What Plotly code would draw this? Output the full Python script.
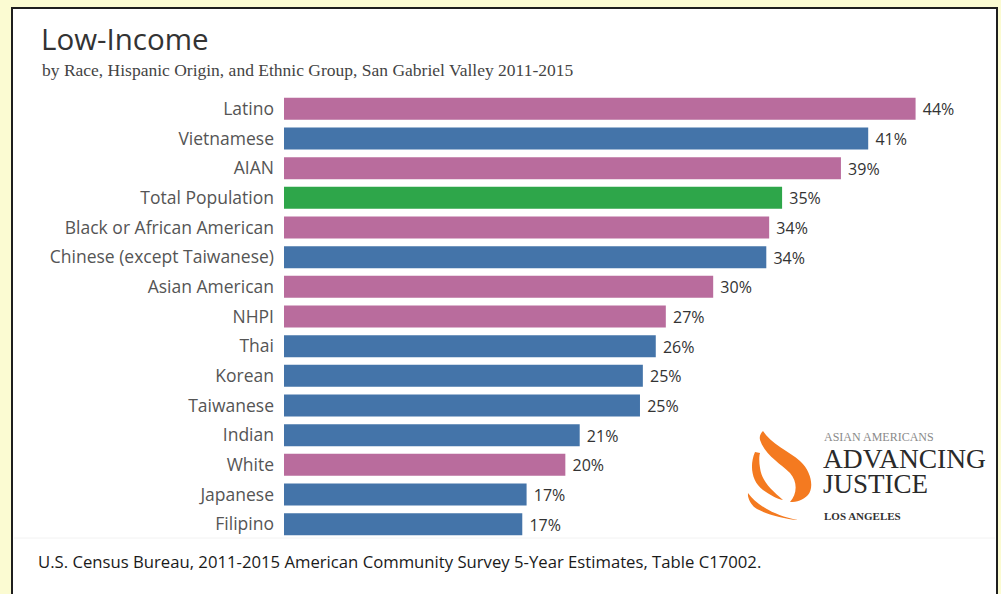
import plotly.graph_objects as go

W, H = 1001, 594
M_L, M_R, M_T, M_B = 284, 28, 94, 55

# data
groups = ["Latino", "Vietnamese", "AIAN", "Total Population", "Black or African American",
          "Chinese (except Taiwanese)", "Asian American", "NHPI", "Thai", "Korean",
          "Taiwanese", "Indian", "White", "Japanese", "Filipino"]
low_income_pct = [44.0, 40.7, 38.8, 34.7, 33.8, 33.6, 29.9, 26.6, 25.9, 25.0, 24.8, 20.6, 19.6, 16.9, 16.6]
group_kind = ["other", "asian", "other", "total", "other", "asian", "other", "other",
              "asian", "asian", "asian", "asian", "other", "asian", "asian"]

kind_colors = {"other": "#B96C9D", "asian": "#4474A9", "total": "#2EA64A"}
bar_colors = [kind_colors[k] for k in group_kind]

PW = W - M_L - M_R
PH = H - M_T - M_B


def px(x):
    return (x - M_L) / PW


def py(y):
    return 1 - (y - M_T) / PH


def path(cmds):
    # cmds: list of (letter, [x1, y1, x2, y2, ...]) in pixel coords
    out = []
    for c, pts in cmds:
        seg = c
        for i in range(0, len(pts), 2):
            seg += " %.4f,%.4f" % (px(pts[i]), py(pts[i + 1]))
        out.append(seg)
    return " ".join(out) + " Z"


fig = go.Figure()

fig.add_trace(go.Bar(
    x=low_income_pct,
    y=groups,
    orientation="h",
    marker=dict(color=bar_colors, line=dict(width=0)),
    width=0.74,
    text=[" %d%%" % round(v) for v in low_income_pct],
    textposition="outside",
    textfont=dict(family="Open Sans", size=17.5, color="#333333"),
    cliponaxis=False,
    hoverinfo="skip",
))

# panel + logo
shapes = [
    dict(type="rect", xref="paper", yref="paper", x0=px(12), x1=px(997), y0=py(8), y1=py(620),
         fillcolor="white", line=dict(color="#1E1E1E", width=2), layer="below"),
    dict(type="line", xref="paper", yref="paper", x0=px(14), x1=px(995), y0=py(538), y1=py(538),
         line=dict(color="#F2F2F2", width=1), layer="below"),
]
orange = "#F47A20"
flame_big = path([("M", [763, 431]),
                  ("C", [770, 443, 790, 452, 800, 461]),
                  ("C", [812, 472, 814, 488, 808, 495]),
                  ("C", [803, 500, 797, 502, 790, 502]),
                  ("C", [797, 494, 798, 482, 790, 473]),
                  ("C", [780, 463, 765, 455, 760, 440]),
                  ("C", [759, 436, 761, 433, 763, 431])])
flame_mid = path([("M", [755, 452]),
                  ("C", [749, 466, 752, 482, 763, 490]),
                  ("C", [770, 495, 777, 499, 783, 500]),
                  ("C", [772, 490, 762, 482, 760, 468]),
                  ("C", [759, 462, 759, 456, 760, 453])])
flame_low = path([("M", [748, 493]),
                  ("C", [756, 504, 772, 515, 798, 520]),
                  ("C", [784, 519, 766, 514, 757, 509]),
                  ("C", [752, 506, 749, 501, 748, 496])])
for p in (flame_big, flame_mid, flame_low):
    shapes.append(dict(type="path", xref="paper", yref="paper", path=p,
                       fillcolor=orange, line=dict(width=0)))

annotations = [
    dict(text="Low-Income", x=px(39), y=py(38), xanchor="left", yanchor="middle",
         font=dict(family="Open Sans", size=29.5, color="#333333")),
    dict(text="by Race, Hispanic Origin, and Ethnic Group, San Gabriel Valley 2011-2015",
         x=px(40), y=py(70), xanchor="left", yanchor="middle",
         font=dict(family="Liberation Serif", size=17.5, color="#444444")),
    dict(text="U.S. Census Bureau, 2011-2015 American Community Survey 5-Year Estimates, Table C17002.",
         x=px(36), y=py(561), xanchor="left", yanchor="middle",
         font=dict(family="Open Sans", size=16.7, color="#1A1A1A")),
    dict(text="ASIAN AMERICANS", x=px(822), y=py(437), xanchor="left", yanchor="middle",
         font=dict(family="Liberation Serif", size=12, color="#8A8A8A")),
    dict(text="ADVANCING", x=px(821), y=py(458), xanchor="left", yanchor="middle",
         font=dict(family="Liberation Serif", size=27.5, color="#2A2A2A")),
    dict(text="JUSTICE", x=px(821), y=py(484), xanchor="left", yanchor="middle",
         font=dict(family="Liberation Serif", size=27, color="#2A2A2A")),
    dict(text="<b>LOS ANGELES</b>", x=px(822), y=py(516), xanchor="left", yanchor="middle",
         font=dict(family="Liberation Serif", size=11, color="#333333")),
]
for a in annotations:
    a.update(xref="paper", yref="paper", showarrow=False)

fig.update_layout(
    width=W, height=H,
    margin=dict(l=M_L, r=M_R, t=M_T, b=M_B, autoexpand=False),
    paper_bgcolor="#FBFBD2",
    plot_bgcolor="rgba(0,0,0,0)",
    showlegend=False,
    shapes=shapes,
    annotations=annotations,
    xaxis=dict(range=[0, 48], visible=False, fixedrange=True),
    yaxis=dict(
        range=[14.5, -0.5],
        showgrid=False, zeroline=False, showline=False, ticks="",
        tickfont=dict(family="Open Sans", size=17.5, color="#555555"),
        ticklabelstandoff=9,
        fixedrange=True,
    ),
)

fig.write_html("out.html", config={"displayModeBar": False},
               post_script="document.body.style.margin='0';")
